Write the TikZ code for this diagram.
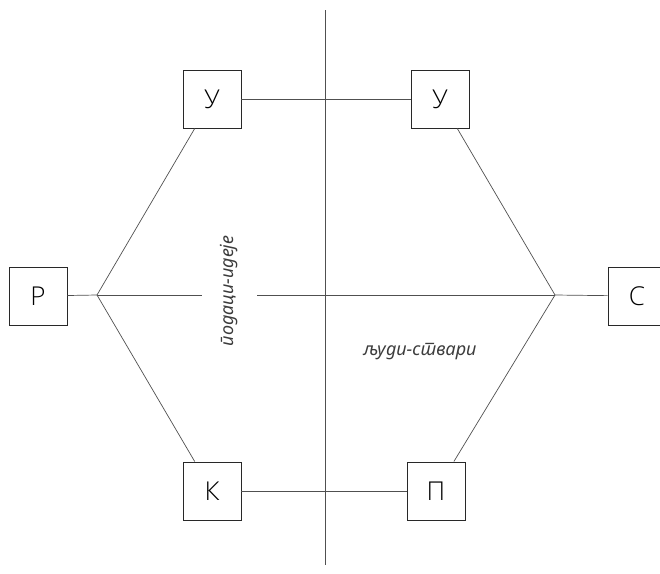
\documentclass[tikz,border=0pt]{standalone}
\usepackage{fontspec}
\setmainfont{Open Sans Light}
\newfontfamily\srbfont[Language=Serbian,Script=Cyrillic]{Noto Sans}
\usepackage{xcolor}
\usepackage{tikz}
\usetikzlibrary{
    positioning,
    calc
}
\definecolor{lineGray}{RGB}{80, 80, 80}
\definecolor{boxGray}{RGB}{40, 40, 40}
\definecolor{labelGray}{RGB}{60, 60, 60}
\tikzset{
    letterbox/.style={draw=boxGray, line width=0.9pt, minimum size=58pt, inner sep=0pt, fill=white,
        font=\fontsize{26}{26}\selectfont},
    link/.style={draw=lineGray, line width=0.7pt},
    axislabel/.style={font=\srbfont\itshape\fontsize{18}{18}\selectfont, text=labelGray}
}
\begin{document}
\begin{tikzpicture}[x=1pt, y=-1pt]
            \useasboundingbox (0,0) rectangle (660,573);
            \coordinate (hubL) at (97,295);
            \coordinate (hubR) at (555,295);
            \coordinate (axisTop) at (325,10);
            \coordinate (axisBot) at (325,565);

            % Axis
            \draw[link] (axisTop) -- (axisBot);
            \draw[link] (hubL) -- (hubR);

            % Boxes
            \node[letterbox] (uL) at (212,99) {У};
            \node[letterbox] (uR) at (440,99) {У};
            \node[letterbox] (r) at (38,296) {Р};
            \node[letterbox] (s) at (637,296) {С};
            \node[letterbox] (k) at (212,491) {К};
            \node[letterbox] (p) at (436,491) {П};

            % Labels
            \node[axislabel, rotate=90, fill=white, minimum height=55pt] (ideas) at (229,291) {подаци-идеје};
            \node[axislabel] (things) at (420,352) {људи-ствари};

            % Hexagon sides
            \draw[link] (hubL) -- (uL);
            \draw[link] (hubL) -- (k);
            \draw[link] (hubR) -- (uR);
            \draw[link] (hubR) -- (p);
            \draw[link] (r) -- (hubL);
            \draw[link] (hubR) -- (s);
            \draw[link] (uL) -- (uR);
            \draw[link] (k) -- (p);
        \end{tikzpicture}
\end{document}
